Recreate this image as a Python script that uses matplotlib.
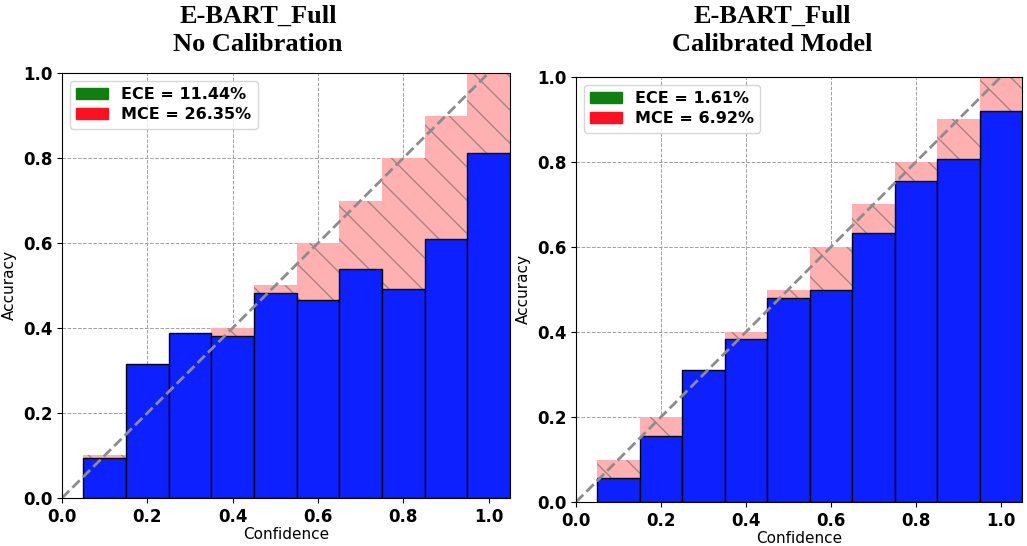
import matplotlib
matplotlib.use("Agg")
import matplotlib.pyplot as plt
import matplotlib.patches as mpatches
import numpy as np

# bin centres and per-bin accuracy
bin_centers = [0.1, 0.2, 0.3, 0.4, 0.5, 0.6, 0.7, 0.8, 0.9, 1.0]
acc_uncal = [0.094, 0.315, 0.389, 0.381, 0.482, 0.466, 0.538, 0.492, 0.609, 0.812]
acc_cal = [0.056, 0.155, 0.310, 0.383, 0.480, 0.500, 0.634, 0.756, 0.807, 0.920]

titles = ["E-BART_Full\nNo Calibration", "E-BART_Full\nCalibrated Model"]
ece_vals = ["11.44%", "1.61%"]
mce_vals = ["26.35%", "6.92%"]
tick_vals = [0.0, 0.2, 0.4, 0.6, 0.8, 1.0]

fig = plt.figure(figsize=(10.27, 5.46), dpi=100)
W, H = 1027, 546
positions = [
    [62 / W, (H - 498) / H, 448 / W, 425 / H],
    [576 / W, (H - 502) / H, 446 / W, 425 / H],
]
title_x = [258 / W, 772 / W]


def draw_panel(ax, acc, ece, mce):
    centers = np.array(bin_centers)
    acc = np.array(acc)
    gap = centers - acc
    ax.set_axisbelow(True)
    ax.grid(True, linestyle="--", color="#a0a0a0", linewidth=0.7)
    # gap first, so the accuracy bars cover it where acc > confidence
    ax.bar(centers, gap, bottom=acc, width=0.1, color="#ffb0b0",
           edgecolor="#a88484", hatch="\\", linewidth=0.0)
    ax.bar(centers, acc, width=0.1, color="#0d20ff", edgecolor="black", linewidth=1.0)
    ax.plot([0, 1], [0, 1], linestyle="--", color="#8c8c8c", linewidth=2)
    ax.set_xlim(0, 1.05)
    ax.set_ylim(0, 1)
    ax.set_xticks(tick_vals)
    ax.set_yticks(tick_vals)
    ax.set_xticklabels([f"{t:.1f}" for t in tick_vals], fontweight="bold", fontsize=12)
    ax.set_yticklabels([f"{t:.1f}" for t in tick_vals], fontweight="bold", fontsize=12)
    ax.set_xlabel("Confidence", fontsize=11, labelpad=1)
    ax.set_ylabel("Accuracy", fontsize=11)
    handles = [
        mpatches.Patch(color="#107f10", label=f"ECE = {ece}"),
        mpatches.Patch(color="#ff1020", label=f"MCE = {mce}"),
    ]
    ax.legend(handles=handles, loc="upper left", prop={"weight": "bold", "size": 11.5},
              handlelength=2.0, borderpad=0.4, labelspacing=0.3)


for pos, tx, acc, title, ece, mce in zip(positions, title_x, [acc_uncal, acc_cal],
                                         titles, ece_vals, mce_vals):
    ax = fig.add_axes(pos)
    draw_panel(ax, acc, ece, mce)
    fig.text(tx, 1 - 5 / H, title, ha="center", va="top", fontsize=19,
             fontweight="bold", family="Liberation Serif", linespacing=1.3)

fig.savefig("out.png", dpi=100)
